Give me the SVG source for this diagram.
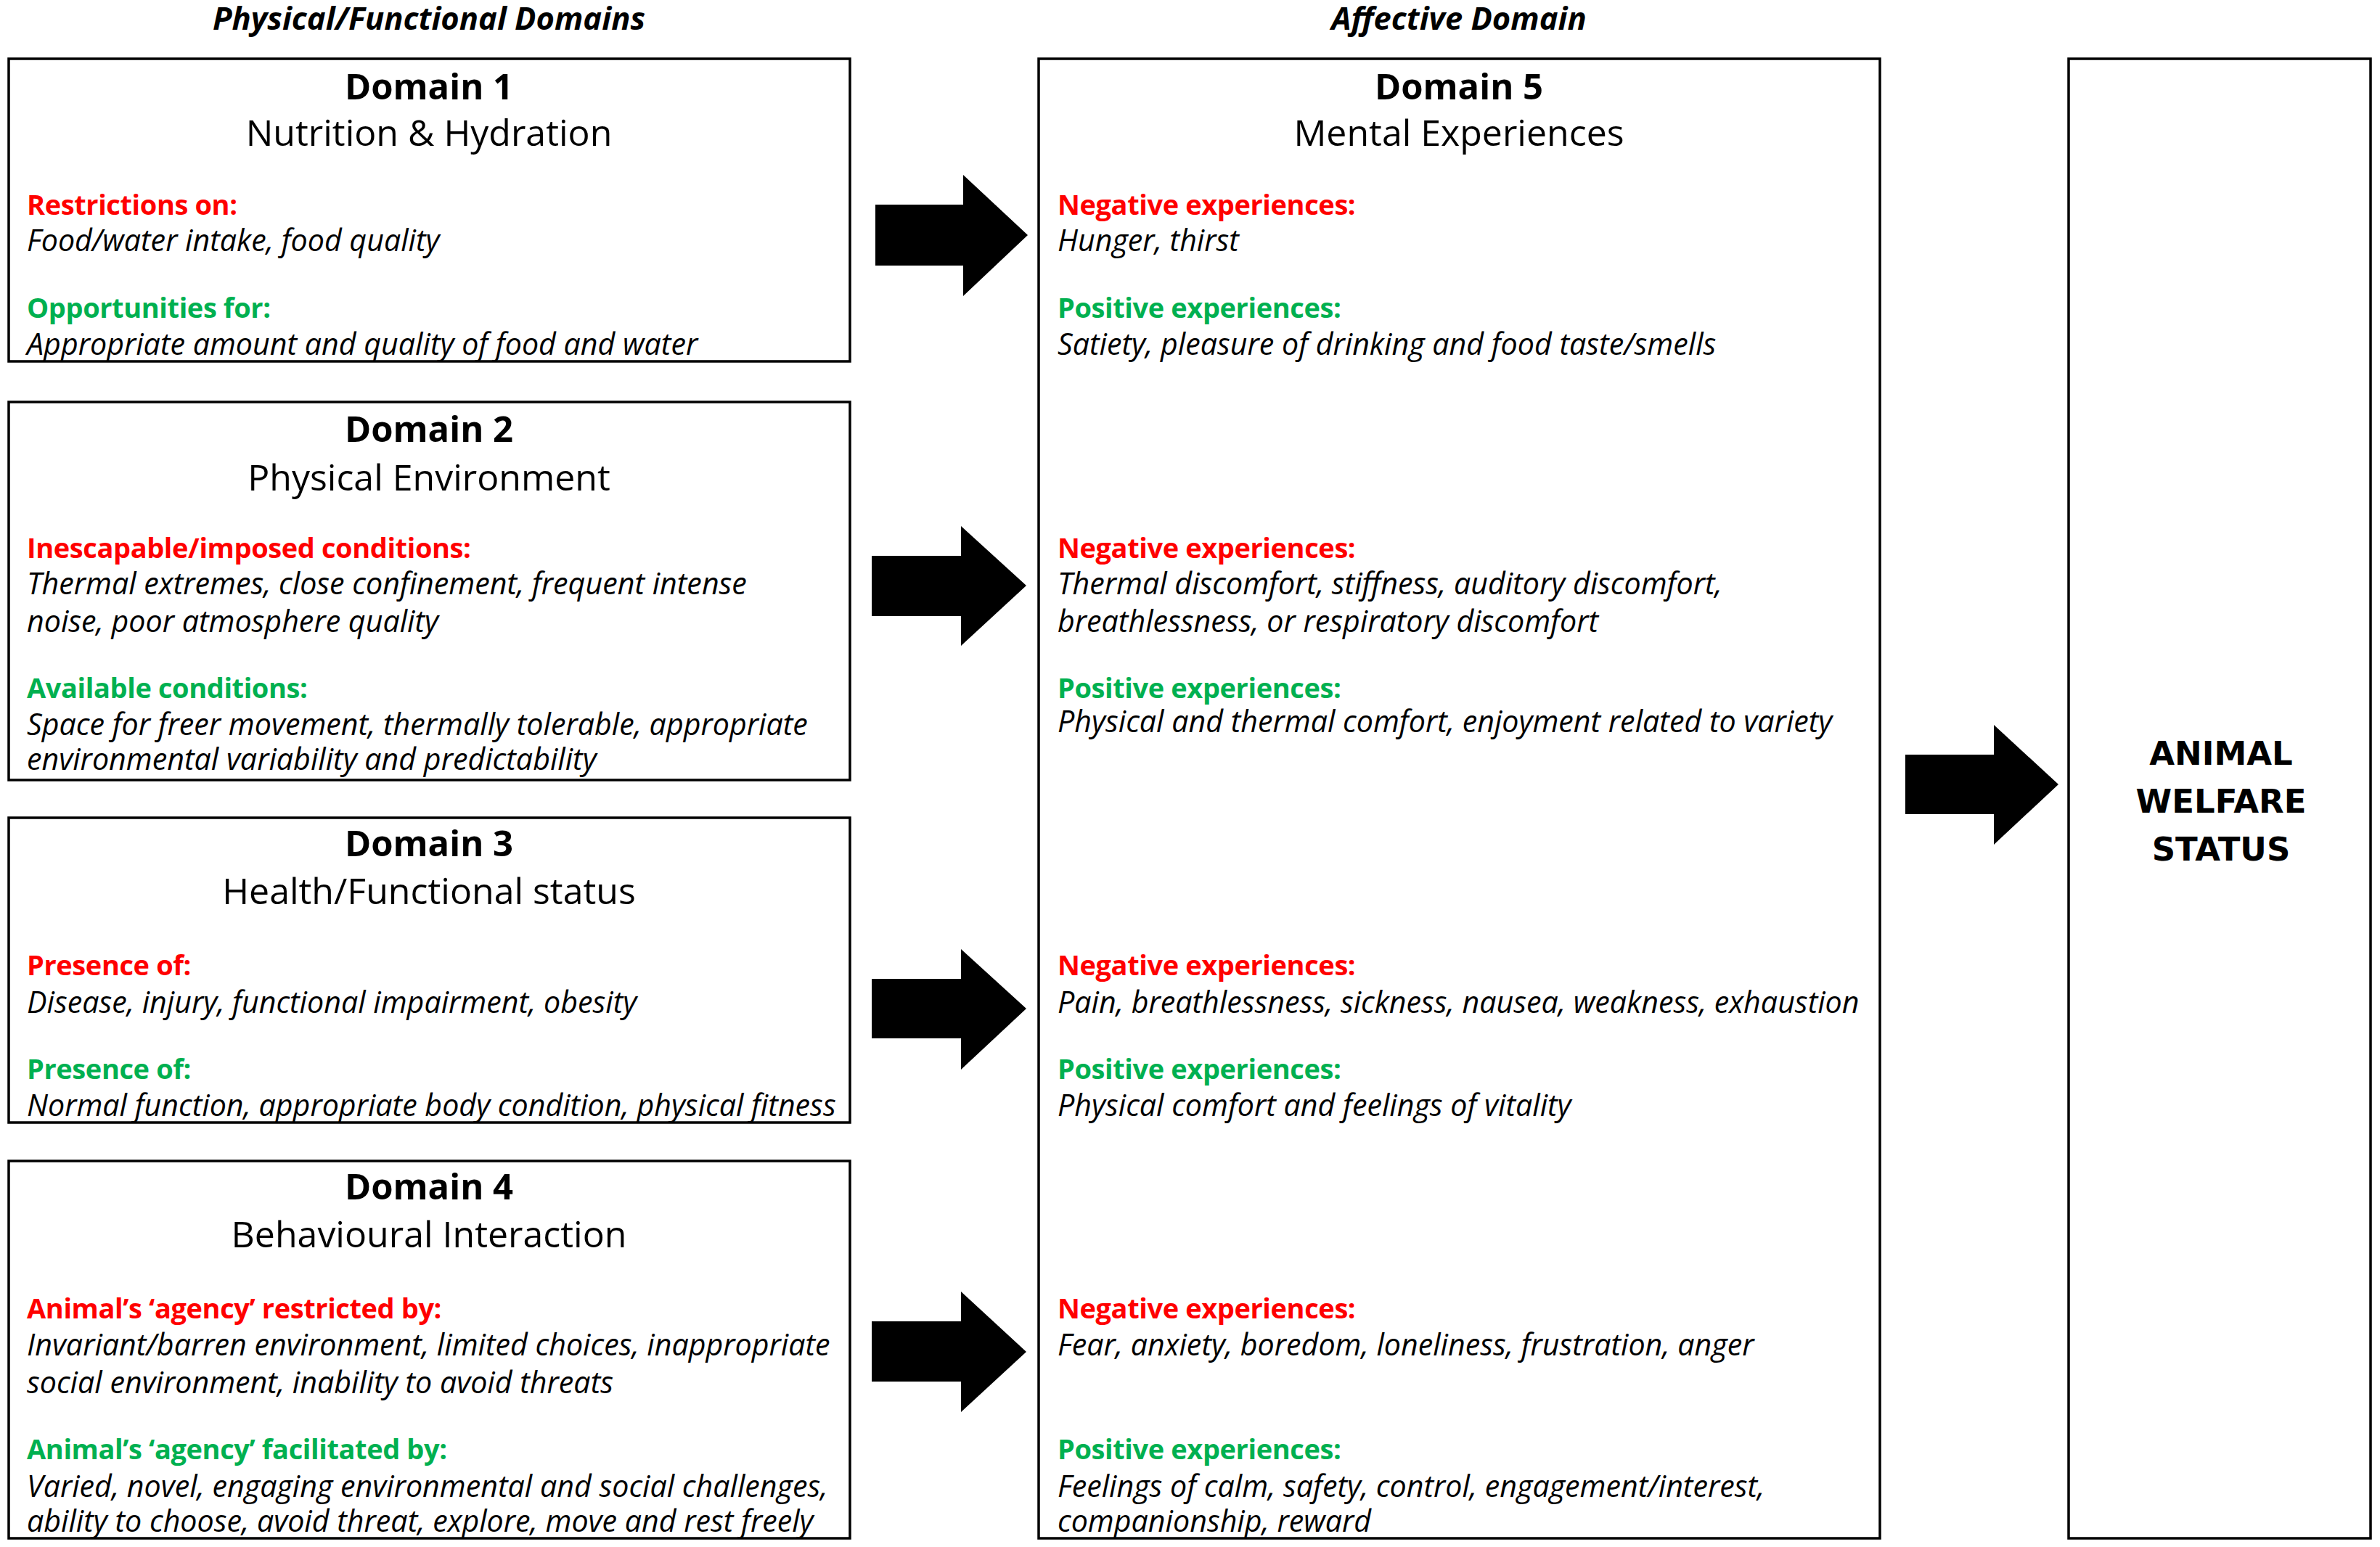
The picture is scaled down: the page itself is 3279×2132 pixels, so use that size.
<svg xmlns="http://www.w3.org/2000/svg" width="3279" height="2132" viewBox="0 0 3279 2132">
<style>
text { font-family: "Open Sans", "Liberation Sans", sans-serif; fill: #000; }
.box { fill: #fff; stroke: #000; stroke-width: 3.5; }
.hdr { font-size: 43.5px; font-weight: bold; font-style: italic; text-anchor: middle; }
.dt { font-size: 49px; font-weight: bold; text-anchor: middle; }
.st { font-size: 50px; text-anchor: middle; }
.neg { font-size: 38px; font-weight: bold; fill: #FF0000; letter-spacing: -0.4px; }
.pos { font-size: 38px; font-weight: bold; fill: #00B050; letter-spacing: -0.4px; }
.it { font-size: 41.2px; font-style: italic; }
.aws { font-family: "DejaVu Sans", Verdana, sans-serif; font-size: 45px; font-weight: bold; text-anchor: middle; }
.arrow { fill: #000; }
</style>
<rect width="3279" height="2132" fill="#fff"/>
<g id="headers">
<text class="hdr" x="591" y="41">Physical/Functional Domains</text>
<text class="hdr" x="2010" y="41">Affective Domain</text>
</g>
<g id="domain1">
<rect class="box" x="12" y="81" width="1159" height="417"/>
<text class="dt" x="591" y="137">Domain 1</text>
<text class="st" x="591" y="201">Nutrition &amp; Hydration</text>
<text class="neg" x="37" y="296">Restrictions on:</text>
<text class="it" x="37" y="346">Food/water intake, food quality</text>
<text class="pos" x="37" y="438">Opportunities for:</text>
<text class="it" x="37" y="489">Appropriate amount and quality of food and water</text>
</g>
<g id="domain2">
<rect class="box" x="12" y="554" width="1159" height="521"/>
<text class="dt" x="591" y="609">Domain 2</text>
<text class="st" x="591" y="676">Physical Environment</text>
<text class="neg" x="37" y="769">Inescapable/imposed conditions:</text>
<text class="it" x="37" y="819">Thermal extremes, close confinement, frequent intense</text>
<text class="it" x="37" y="871">noise, poor atmosphere quality</text>
<text class="pos" x="37" y="962">Available conditions:</text>
<text class="it" x="37" y="1013">Space for freer movement, thermally tolerable, appropriate</text>
<text class="it" x="37" y="1061">environmental variability and predictability</text>
</g>
<g id="domain3">
<rect class="box" x="12" y="1127" width="1159" height="420"/>
<text class="dt" x="591" y="1180">Domain 3</text>
<text class="st" x="591" y="1246">Health/Functional status</text>
<text class="neg" x="37" y="1344">Presence of:</text>
<text class="it" x="37" y="1396">Disease, injury, functional impairment, obesity</text>
<text class="pos" x="37" y="1487">Presence of:</text>
<text class="it" x="37" y="1538">Normal function, appropriate body condition, physical fitness</text>
</g>
<g id="domain4">
<rect class="box" x="12" y="1600" width="1159" height="520"/>
<text class="dt" x="591" y="1653">Domain 4</text>
<text class="st" x="591" y="1719">Behavioural Interaction</text>
<text class="neg" x="37" y="1817">Animal’s ‘agency’ restricted by:</text>
<text class="it" x="37" y="1868">Invariant/barren environment, limited choices, inappropriate</text>
<text class="it" x="37" y="1920">social environment, inability to avoid threats</text>
<text class="pos" x="37" y="2011">Animal’s ‘agency’ facilitated by:</text>
<text class="it" x="37" y="2063">Varied, novel, engaging environmental and social challenges,</text>
<text class="it" x="37" y="2111">ability to choose, avoid threat, explore, move and rest freely</text>
</g>
<g id="domain5">
<rect class="box" x="1431" y="81" width="1159" height="2039"/>
<text class="dt" x="2010" y="137">Domain 5</text>
<text class="st" x="2010" y="201">Mental Experiences</text>
<text class="neg" x="1457" y="296">Negative experiences:</text>
<text class="it" x="1457" y="346">Hunger, thirst</text>
<text class="pos" x="1457" y="438">Positive experiences:</text>
<text class="it" x="1457" y="489">Satiety, pleasure of drinking and food taste/smells</text>
<text class="neg" x="1457" y="769">Negative experiences:</text>
<text class="it" x="1457" y="819">Thermal discomfort, stiffness, auditory discomfort,</text>
<text class="it" x="1457" y="871">breathlessness, or respiratory discomfort</text>
<text class="pos" x="1457" y="962">Positive experiences:</text>
<text class="it" x="1457" y="1009">Physical and thermal comfort, enjoyment related to variety</text>
<text class="neg" x="1457" y="1344">Negative experiences:</text>
<text class="it" x="1457" y="1396">Pain, breathlessness, sickness, nausea, weakness, exhaustion</text>
<text class="pos" x="1457" y="1487">Positive experiences:</text>
<text class="it" x="1457" y="1538">Physical comfort and feelings of vitality</text>
<text class="neg" x="1457" y="1817">Negative experiences:</text>
<text class="it" x="1457" y="1868">Fear, anxiety, boredom, loneliness, frustration, anger</text>
<text class="pos" x="1457" y="2011">Positive experiences:</text>
<text class="it" x="1457" y="2063">Feelings of calm, safety, control, engagement/interest,</text>
<text class="it" x="1457" y="2111">companionship, reward</text>
</g>
<g id="welfare">
<rect class="box" x="2850" y="81" width="416" height="2039"/>
<text class="aws" x="3060" y="1054">ANIMAL</text>
<text class="aws" x="3060" y="1120">WELFARE</text>
<text class="aws" x="3060" y="1186">STATUS</text>
</g>
<g id="connectors">
<polygon class="arrow" points="1206,282 1327,282 1327,241 1416,324 1327,408 1327,366 1206,366"/>
<polygon class="arrow" points="1201,766 1324,766 1324,725 1414,807 1324,890 1324,849 1201,849"/>
<polygon class="arrow" points="1201,1349 1324,1349 1324,1308 1414,1390 1324,1474 1324,1431 1201,1431"/>
<polygon class="arrow" points="1201,1821 1324,1821 1324,1780 1414,1863 1324,1946 1324,1904 1201,1904"/>
<polygon class="arrow" points="2625,1040 2747,1040 2747,999 2836,1081 2747,1164 2747,1122 2625,1122"/>
</g>
</svg>
